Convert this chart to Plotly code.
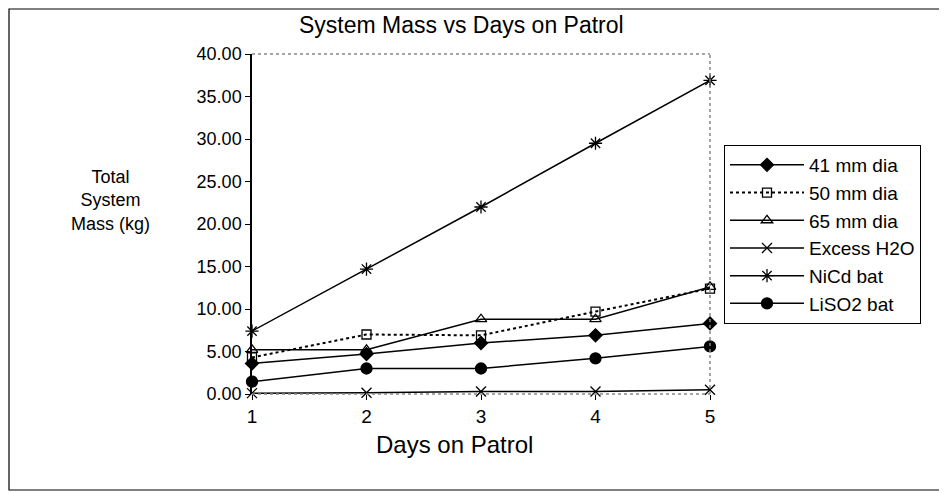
import plotly.graph_objects as go

days = [1, 2, 3, 4, 5]
mm41 = [3.6, 4.7, 6.0, 6.9, 8.3]
mm50 = [4.3, 7.0, 6.9, 9.7, 12.4]
mm65 = [5.2, 5.2, 8.8, 8.8, 12.6]
excess_h2o = [0.1, 0.15, 0.3, 0.3, 0.5]
nicd = [7.4, 14.7, 22.0, 29.5, 36.9]
liso2 = [1.45, 3.0, 3.0, 4.2, 5.6]
y_ticks = [0, 5, 10, 15, 20, 25, 30, 35, 40]
y_tick_text = ["0.00", "5.00", "10.00", "15.00", "20.00", "25.00", "30.00", "35.00", "40.00"]

OFF = 8  # page body margin
W, H = 947 - OFF, 493 - OFF
L, R, T, B = 252 - OFF, 947 - 710, 54 - OFF, 493 - 394
PW, PH = W - L - R, H - T - B


def px(x):
    return (x - OFF - L) / PW


def py(y):
    return (H - B - (y - OFF)) / PH


FONT = "Liberation Sans, Arial, sans-serif"

series = [
    ("41 mm dia", mm41, "diamond", "solid", 10),
    ("50 mm dia", mm50, "square-open", "dot", 9),
    ("65 mm dia", mm65, "triangle-up-open", "solid", 10),
    ("Excess H2O", excess_h2o, "x-thin-open", "solid", 10),
    ("NiCd bat", nicd, "asterisk-open", "solid", 11),
    ("LiSO2 bat", liso2, "circle", "solid", 11),
]

fig = go.Figure()
for i, (name, vals, sym, dash, size) in enumerate(series):
    fig.add_trace(go.Scatter(
        x=days, y=vals, name=name, mode="lines+markers",
        line=dict(color="black", width=1.5 if dash == "solid" else 2, dash=dash),
        marker=dict(symbol=sym, size=size, color="black",
                    line=dict(color="black", width=1.3)),
        cliponaxis=False, legendgroup=f"g{i}",
    ))

fig.update_layout(
    width=W, height=H,
    margin=dict(l=L, r=R, t=T, b=B, autoexpand=False),
    paper_bgcolor="white", plot_bgcolor="white",
    font=dict(family=FONT, color="black", size=17),
    showlegend=True,
    legend=dict(
        x=px(724), y=py(145), xanchor="left", yanchor="top",
        bordercolor="black", borderwidth=1, bgcolor="white",
        font=dict(size=19, family=FONT), tracegroupgap=0, itemwidth=74,
    ),
    xaxis=dict(
        range=[1, 5], tickvals=days, ticktext=[str(d) for d in days],
        showgrid=False, zeroline=False, showline=False,
        ticks="outside", ticklen=5, tickcolor="black",
        tickfont=dict(size=19),
    ),
    yaxis=dict(
        range=[0, 40], tickvals=y_ticks, ticktext=y_tick_text,
        showgrid=False, zeroline=False, showline=True, linecolor="black", linewidth=1.5,
        ticks="outside", ticklen=5, tickcolor="black",
        tickfont=dict(size=18),
    ),
    shapes=[
        dict(type="line", xref="paper", yref="paper", x0=0, x1=1, y0=1, y1=1,
             line=dict(color="#888", width=1.5, dash="dot")),
        dict(type="line", xref="paper", yref="paper", x0=1, x1=1, y0=0, y1=1,
             line=dict(color="#888", width=1.5, dash="dot")),
        dict(type="line", xref="paper", yref="paper", x0=0, x1=1, y0=0, y1=0,
             line=dict(color="#888", width=1.5, dash="dot")),
        dict(type="rect", xref="paper", yref="paper", x0=px(OFF + 1), x1=px(944), y0=py(490), y1=py(OFF + 1),
             line=dict(color="black", width=1.2), layer="below"),
    ],
    annotations=[
        dict(text="System Mass vs Days on Patrol", xref="paper", yref="paper",
             x=px(461), y=py(OFF + 2), xanchor="center", yanchor="top",
             showarrow=False, font=dict(size=23)),
        dict(text="Total<br>System<br>Mass (kg)", xref="paper", yref="paper",
             x=px(110), y=py(200), xanchor="center", yanchor="middle",
             showarrow=False, font=dict(size=18)),
        dict(text="Days on Patrol", xref="paper", yref="paper",
             x=px(454), y=py(444), xanchor="center", yanchor="middle",
             showarrow=False, font=dict(size=24)),
    ],
)

fig.write_html("out.html")
